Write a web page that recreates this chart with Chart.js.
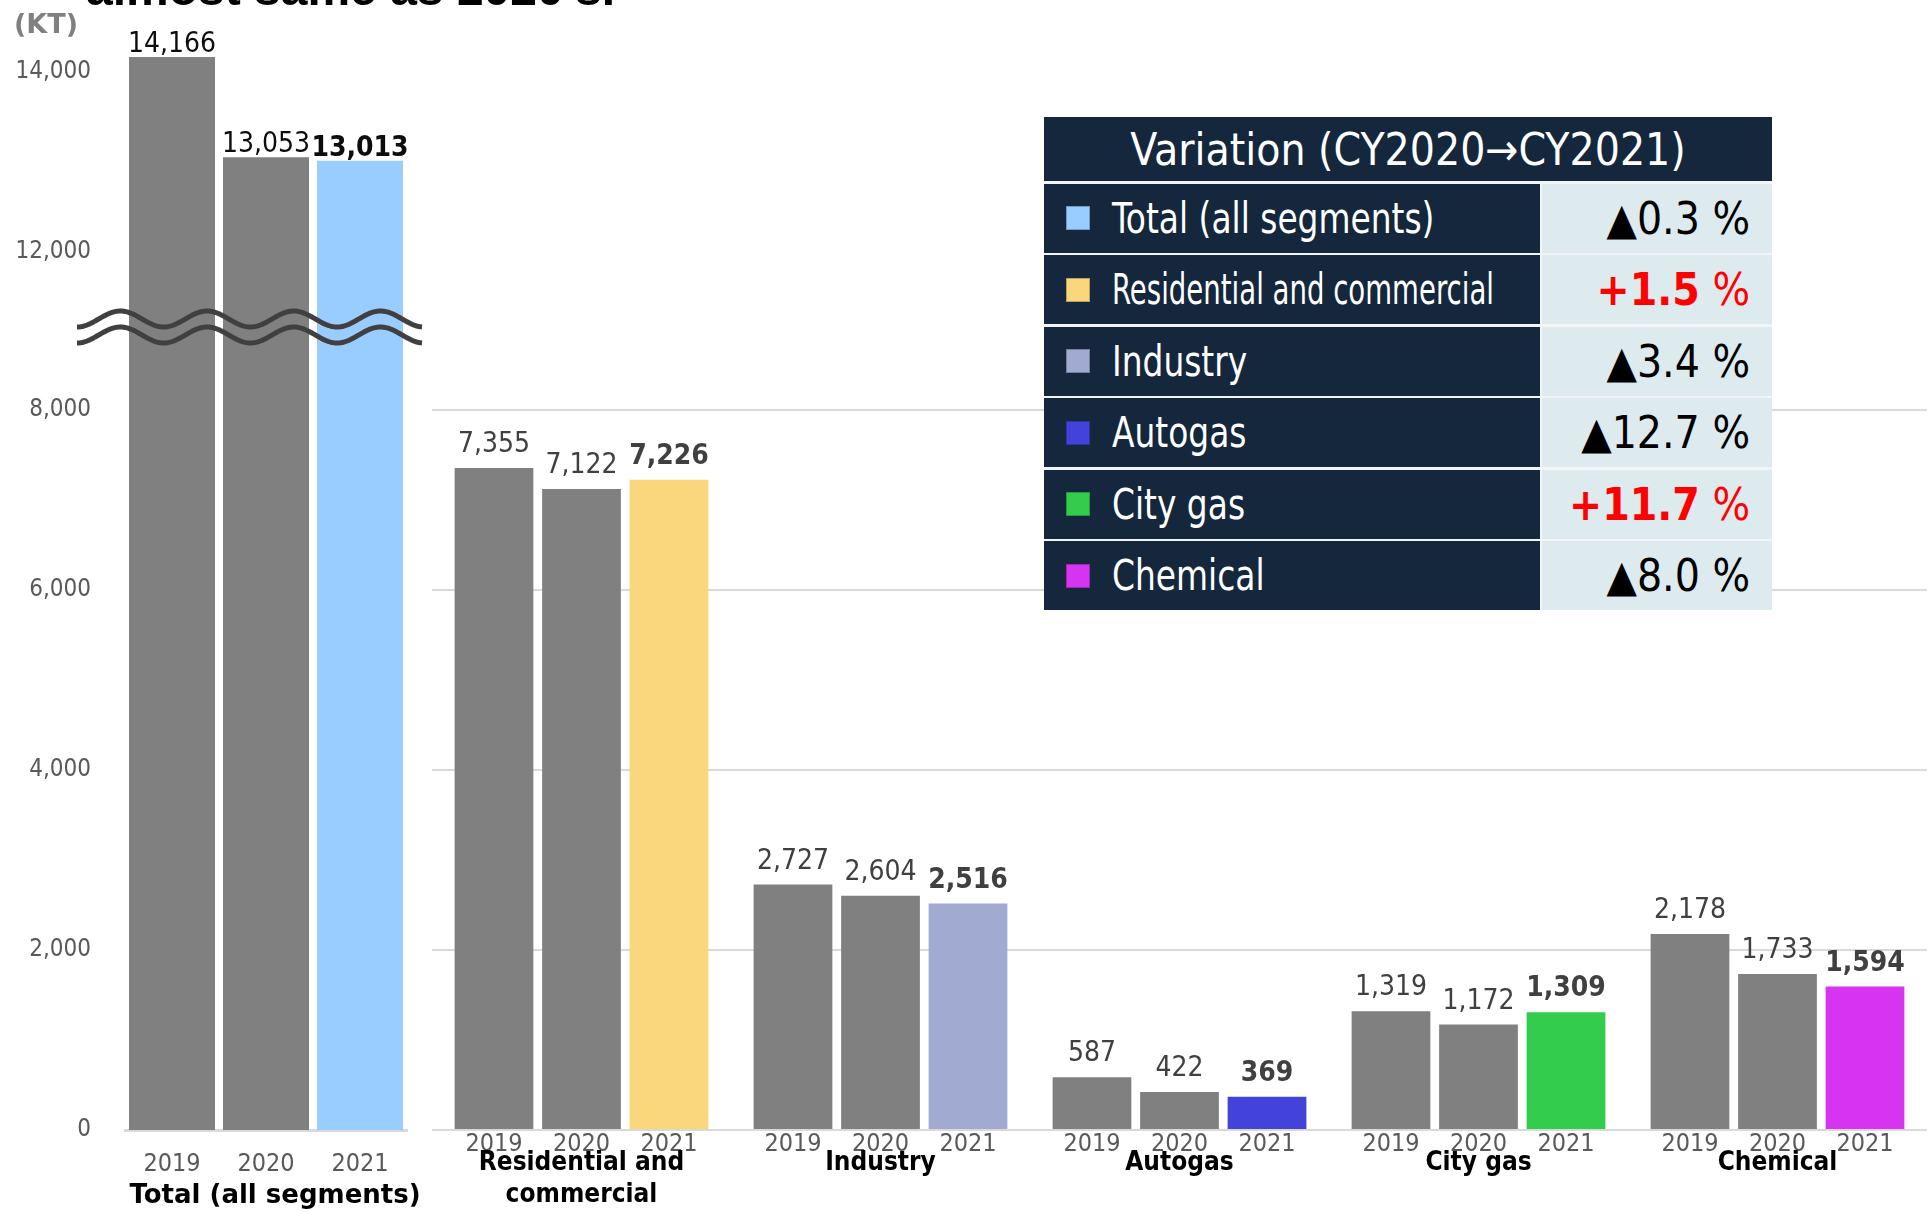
<!DOCTYPE html>
<html lang="en">
<head>
<meta charset="UTF-8" />
<title>LPG demand by segment</title>
<script src="https://cdn.jsdelivr.net/npm/chart.js"></script>
<style>
  html, body { margin: 0; padding: 0; background: #fff; }
  body { width: 1930px; height: 1212px; position: relative; overflow: hidden; font-family: 'DejaVu Sans', sans-serif; }
  canvas { position: absolute; }
  #totalTop { left: 0; top: 0; z-index: 3; }
  #totalBottom { left: 0; top: 320px; z-index: 2; }
  #segments { left: 420px; top: 0; z-index: 1; }
  .headline { position: absolute; left: 86px; top: -35px; font: bold 48px/48px 'Liberation Sans', Arial, sans-serif; color: #000; white-space: nowrap; z-index: 4; }
  .unit { position: absolute; left: 14px; top: 10px; font: bold 27px/27px 'DejaVu Sans', sans-serif; color: #808080; z-index: 4; }
  #variation { position: absolute; left: 1044px; top: 117px; width: 728px; background: #f1f5f6; z-index: 5;
    font-family: 'DejaVu Sans Condensed', 'DejaVu Sans', sans-serif; }
  .vhead { height: 64px; background: #14273d; color: #fff; font-size: 44px; display: flex; align-items: center; justify-content: center; white-space: nowrap; }
  .vrow { display: flex; height: 69px; margin-top: 2.5px; }
  .vname { width: 496px; background: #14273d; color: #fff; font-size: 42px; display: flex; align-items: center; white-space: nowrap; }
  .vname .sw { width: 24px; height: 24px; margin: 0 22px 0 22px; flex: none; box-sizing: border-box; border: 1px solid rgba(0,0,0,0.25); }
  .vname .txt { display: inline-block; transform-origin: left center; }
  .vval { flex: 1; margin-left: 2px; background: #ddeaee; color: #000; font-size: 44px; display: flex; align-items: center; justify-content: flex-end; padding-right: 22px; white-space: nowrap; }
  .vval.up { color: #ff0000; }
  .vval.up b { font-weight: bold; }
  .vval b { font-weight: normal; }
</style>
</head>
<body>
  <div class="headline">almost same as 2020's.</div>
  <div class="unit">(KT)</div>
  <canvas id="segments" width="1510" height="1212"></canvas>
  <canvas id="totalBottom" width="430" height="892"></canvas>
  <canvas id="totalTop" width="430" height="360"></canvas>
  <div id="variation">
    <div class="vhead">Variation (CY2020→CY2021)</div>
  </div>

<script>
const FONT = "'DejaVu Sans Condensed', 'DejaVu Sans', sans-serif";
Chart.defaults.font.family = FONT;

// total (all segments), KT
const totalYears = ['2019', '2020', '2021'];
const totalValues = [14166, 13053, 13013];
const totalColors = ['#808080', '#808080', '#99ccff'];
const totalTitle = 'Total (all segments)';

// segments, KT
const segmentNames = [['Residential and', 'commercial'], 'Industry', 'Autogas', 'City gas', 'Chemical'];
const seg2019 = [7355, 2727, 587, 1319, 2178];
const seg2020 = [7122, 2604, 422, 1172, 1733];
const seg2021 = [7226, 2516, 369, 1309, 1594];
const seg2021Colors = ['#fad67d', '#a1aad1', '#4343dc', '#33cc4c', '#d634f0'];

// variation table
const varNames = ['Total (all segments)', 'Residential and commercial', 'Industry', 'Autogas', 'City gas', 'Chemical'];
const varColors = ['#99ccff', '#fad67d', '#a1aad1', '#4343dc', '#33cc4c', '#d634f0'];
const varValues = ['▲0.3', '+1.5', '▲3.4', '▲12.7', '+11.7', '▲8.0'];

// y axis (broken on the total chart)
const lowerTicks = [0, 2000, 4000, 6000, 8000];
const upperTicks = [12000, 14000];
const lowerMax = 9000;
const upperMin = 11244;
const upperMax = 14578;

const fmt = v => v.toLocaleString('en-US');
const setTicks = list => s => { s.ticks = list.map(v => ({ value: v })); };
const noPad = s => { s.paddingTop = 0; s.paddingBottom = 0; s.paddingLeft = 0; s.paddingRight = 0; };

function valueLabels(gap, color, isBold) {
  return {
    id: 'valueLabels',
    afterDatasetsDraw(chart) {
      const ctx = chart.ctx;
      ctx.save();
      ctx.textAlign = 'center';
      ctx.textBaseline = 'alphabetic';
      ctx.fillStyle = color;
      chart.data.datasets.forEach((ds, i) => {
        chart.getDatasetMeta(i).data.forEach((bar, j) => {
          ctx.font = (isBold(i, j) ? 'bold ' : '') + '28px ' + FONT;
          ctx.fillText(fmt(ds.data[j]), bar.x, bar.y - gap);
        });
      });
      ctx.restore();
    }
  };
}

// wavy break mark over the joint of the two total panels
const breakMark = {
  id: 'breakMark',
  afterDraw(chart) {
    const {ctx, chartArea} = chart;
    const x0 = chartArea.left - 48, x1 = chartArea.right + 15;
    const period = 86.7, amp = 8;
    ctx.save();
    ctx.strokeStyle = '#404040';
    ctx.lineWidth = 5;
    [chartArea.bottom - 1, chartArea.bottom + 15].forEach(mid => {
      ctx.beginPath();
      for (let x = x0; x <= x1; x++) {
        const y = mid + amp * Math.cos(2 * Math.PI * (x - x0) / period);
        if (x === x0) ctx.moveTo(x, y); else ctx.lineTo(x, y);
      }
      ctx.stroke();
    });
    ctx.restore();
  }
};

// category title under the total chart (wider than its axis, so drawn by hand)
const totalCaption = {
  id: 'totalCaption',
  afterDraw(chart) {
    const {ctx, chartArea} = chart;
    ctx.save();
    ctx.font = "bold 26px 'DejaVu Sans', sans-serif";
    ctx.fillStyle = '#000';
    ctx.textAlign = 'center';
    ctx.textBaseline = 'middle';
    ctx.fillText(totalTitle, (chartArea.left + chartArea.right) / 2 + 9, chartArea.bottom + 66);
    ctx.restore();
  }
};

// year under each bar of the segment chart
const yearTicks = {
  id: 'yearTicks',
  beforeDraw(chart) {
    const ctx = chart.ctx;
    ctx.save();
    ctx.font = '25px ' + FONT;
    ctx.fillStyle = '#595959';
    ctx.textAlign = 'center';
    ctx.textBaseline = 'middle';
    chart.data.datasets.forEach((ds, i) => {
      chart.getDatasetMeta(i).data.forEach(bar => {
        ctx.fillText(ds.label, bar.x, chart.chartArea.bottom + 14);
      });
    });
    ctx.restore();
  }
};

const yTickStyle = {
  padding: 34,
  color: '#595959',
  font: { size: 24 },
  callback: v => fmt(v)
};

// total, upper panel
new Chart(document.getElementById('totalTop'), {
  type: 'bar',
  data: {
    labels: totalYears,
    datasets: [{ data: totalValues, backgroundColor: totalColors, barPercentage: 0.915, categoryPercentage: 1, clip: 0 }]
  },
  options: {
    responsive: false, animation: false,
    layout: { padding: { top: 20, right: 23, bottom: 40, left: 0 } },
    plugins: { legend: { display: false }, tooltip: { enabled: false } },
    scales: {
      x: { display: false },
      y: {
        min: upperMin, max: upperMax, beginAtZero: false,
        afterBuildTicks: setTicks(upperTicks),
        afterFit: s => { s.width = 125; noPad(s); },
        grid: { display: false, drawTicks: false },
        border: { display: false },
        ticks: yTickStyle
      }
    }
  },
  plugins: [valueLabels(5, '#0d0d0d', (i, j) => j === totalValues.length - 1), breakMark]
});

// total, lower panel
new Chart(document.getElementById('totalBottom'), {
  type: 'bar',
  data: {
    labels: totalYears,
    datasets: [{ data: totalValues, backgroundColor: totalColors, barPercentage: 0.915, categoryPercentage: 1, clip: 0 }]
  },
  options: {
    responsive: false, animation: false,
    layout: { padding: { top: 0, right: 23, bottom: 0, left: 0 } },
    plugins: { legend: { display: false }, tooltip: { enabled: false } },
    scales: {
      x: {
        afterFit: s => { s.height = 82; noPad(s); },
        grid: { display: false, drawTicks: false },
        border: { display: true, color: '#d9d9d9', width: 3 },
        ticks: { color: '#595959', font: { size: 25 }, padding: 19, maxRotation: 0 }
      },
      y: {
        min: 0, max: lowerMax,
        afterBuildTicks: setTicks(lowerTicks),
        afterFit: s => { s.width = 125; noPad(s); },
        grid: { display: false, drawTicks: false },
        border: { display: false },
        ticks: yTickStyle
      }
    }
  },
  plugins: [totalCaption]
});

// segments
new Chart(document.getElementById('segments'), {
  type: 'bar',
  data: {
    labels: segmentNames,
    datasets: [
      { label: '2019', data: seg2019, backgroundColor: '#808080' },
      { label: '2020', data: seg2020, backgroundColor: '#808080' },
      { label: '2021', data: seg2021, backgroundColor: seg2021Colors }
    ]
  },
  options: {
    responsive: false, animation: false,
    datasets: { bar: { barPercentage: 0.9, categoryPercentage: 0.878 } },
    layout: { padding: { top: 320, right: 3, bottom: 0, left: 12 } },
    plugins: { legend: { display: false }, tooltip: { enabled: false } },
    scales: {
      x: {
        afterFit: s => { s.height = 82; noPad(s); },
        grid: { display: false, drawTicks: false },
        border: { display: false },
        ticks: { color: '#000', font: { size: 26, weight: 'bold' }, padding: 18, maxRotation: 0, autoSkip: false }
      },
      y: {
        min: 0, max: lowerMax,
        afterBuildTicks: setTicks(lowerTicks),
        afterFit: s => { s.width = 0; noPad(s); },
        grid: { color: '#d9d9d9', lineWidth: 2, drawTicks: false },
        border: { display: false },
        ticks: { display: false }
      }
    }
  },
  plugins: [valueLabels(16, '#404040', i => i === 2), yearTicks]
});

// variation table
const table = document.getElementById('variation');
varNames.forEach((name, i) => {
  const row = document.createElement('div');
  row.className = 'vrow';
  const up = varValues[i].startsWith('+');
  row.innerHTML =
    '<div class="vname"><span class="sw" style="background:' + varColors[i] + '"></span>' +
    '<span class="txt">' + name + '</span></div>' +
    '<div class="vval' + (up ? ' up' : '') + '"><b>' + varValues[i] + '</b>&nbsp;%</div>';
  table.appendChild(row);
});
table.querySelectorAll('.txt').forEach(t => {
  const w = t.getBoundingClientRect().width;
  t.style.transform = 'scaleX(' + Math.min(0.87, 382 / w) + ')';
});
</script>
</body>
</html>
